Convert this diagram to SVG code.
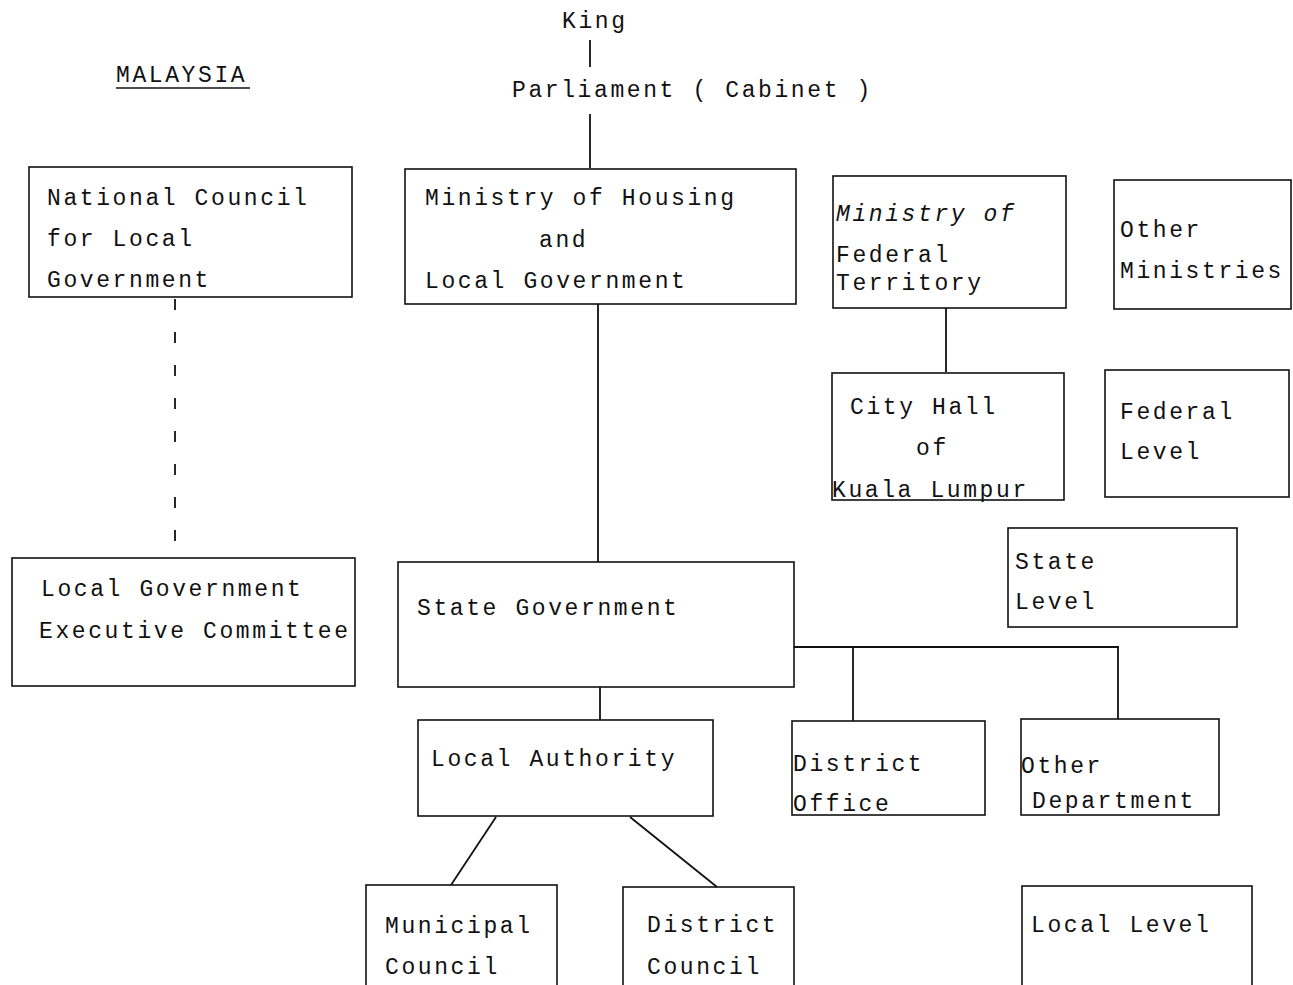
<svg xmlns="http://www.w3.org/2000/svg" width="1293" height="985" viewBox="0 0 1293 985">
  <style>
    .box { fill: none; stroke: #111; stroke-width: 1.6; }
    .lbl { font-family: "Liberation Mono", "DejaVu Sans Mono", monospace; font-size: 23px; letter-spacing: 2.6px; fill: #111; }
    .it { font-style: italic; }
    .ln { fill: none; stroke: #111; stroke-width: 1.8; }
    .dash { stroke-dasharray: 11 22; }
  </style>
  <rect width="1293" height="985" fill="#fff"/>

  <!-- title -->
  <g id="title">
    <text class="lbl" x="116" y="82">MALAYSIA</text>
    <line x1="116" y1="88" x2="250" y2="88" stroke="#111" stroke-width="1.4"/>
  </g>

  <!-- connectors -->
  <g id="connectors">
    <line class="ln" x1="590" y1="40" x2="590" y2="67"/>
    <line class="ln" x1="590" y1="114" x2="590" y2="168"/>
    <line class="ln" x1="598" y1="304" x2="598" y2="562"/>
    <line class="ln dash" x1="175" y1="299" x2="175" y2="557"/>
    <line class="ln" x1="946" y1="308" x2="946" y2="372"/>
    <line class="ln" x1="600" y1="687" x2="600" y2="720"/>
    <polyline class="ln" points="794,647 1119,647"/>
    <line class="ln" x1="853" y1="647" x2="853" y2="721"/>
    <line class="ln" x1="1118" y1="647" x2="1118" y2="719"/>
    <line class="ln" x1="496" y1="817" x2="451" y2="885"/>
    <line class="ln" x1="630" y1="817" x2="717" y2="887"/>
  </g>

  <g id="king">
    <text class="lbl" x="562" y="28">King</text>
  </g>
  <g id="parliament">
    <text class="lbl" x="512" y="97">Parliament ( Cabinet )</text>
  </g>

  <g id="national-council">
    <rect class="box" x="29" y="167" width="323" height="130"/>
    <text class="lbl" x="47" y="205">National Council</text>
    <text class="lbl" x="47" y="246">for Local</text>
    <text class="lbl" x="47" y="287">Government</text>
  </g>

  <g id="ministry-housing">
    <rect class="box" x="405" y="169" width="391" height="135"/>
    <text class="lbl" x="425" y="205">Ministry of Housing</text>
    <text class="lbl" x="539" y="247">and</text>
    <text class="lbl" x="425" y="288">Local Government</text>
  </g>

  <g id="ministry-federal-territory">
    <rect class="box" x="833" y="176" width="233" height="132"/>
    <text class="lbl it" x="836" y="221">Ministry of</text>
    <text class="lbl" x="836" y="262">Federal</text>
    <text class="lbl" x="836" y="290">Territory</text>
  </g>

  <g id="other-ministries">
    <rect class="box" x="1114" y="180" width="177" height="129"/>
    <text class="lbl" x="1120" y="237">Other</text>
    <text class="lbl" x="1120" y="278">Ministries</text>
  </g>

  <g id="city-hall">
    <rect class="box" x="832" y="373" width="232" height="127"/>
    <text class="lbl" x="850" y="414">City Hall</text>
    <text class="lbl" x="916" y="455">of</text>
    <text class="lbl" x="832" y="497">Kuala Lumpur</text>
  </g>

  <g id="federal-level">
    <rect class="box" x="1105" y="370" width="184" height="127"/>
    <text class="lbl" x="1120" y="419">Federal</text>
    <text class="lbl" x="1120" y="459">Level</text>
  </g>

  <g id="state-level">
    <rect class="box" x="1008" y="528" width="229" height="99"/>
    <text class="lbl" x="1015" y="569">State</text>
    <text class="lbl" x="1015" y="609">Level</text>
  </g>

  <g id="lg-executive-committee">
    <rect class="box" x="12" y="558" width="343" height="128"/>
    <text class="lbl" x="41" y="596">Local Government</text>
    <text class="lbl" x="39" y="638">Executive Committee</text>
  </g>

  <g id="state-government">
    <rect class="box" x="398" y="562" width="396" height="125"/>
    <text class="lbl" x="417" y="615">State Government</text>
  </g>

  <g id="local-authority">
    <rect class="box" x="418" y="720" width="295" height="96"/>
    <text class="lbl" x="431" y="766">Local Authority</text>
  </g>

  <g id="district-office">
    <rect class="box" x="792" y="721" width="193" height="94"/>
    <text class="lbl" x="793" y="771">District</text>
    <text class="lbl" x="793" y="811">Office</text>
  </g>

  <g id="other-department">
    <rect class="box" x="1021" y="719" width="198" height="96"/>
    <text class="lbl" x="1021" y="773">Other</text>
    <text class="lbl" x="1032" y="808">Department</text>
  </g>

  <g id="municipal-council">
    <rect class="box" x="366" y="885" width="191" height="110"/>
    <text class="lbl" x="385" y="933">Municipal</text>
    <text class="lbl" x="385" y="974">Council</text>
  </g>

  <g id="district-council">
    <rect class="box" x="623" y="887" width="171" height="108"/>
    <text class="lbl" x="647" y="932">District</text>
    <text class="lbl" x="647" y="974">Council</text>
  </g>

  <g id="local-level">
    <rect class="box" x="1022" y="886" width="230" height="109"/>
    <text class="lbl" x="1031" y="932">Local Level</text>
  </g>
</svg>
